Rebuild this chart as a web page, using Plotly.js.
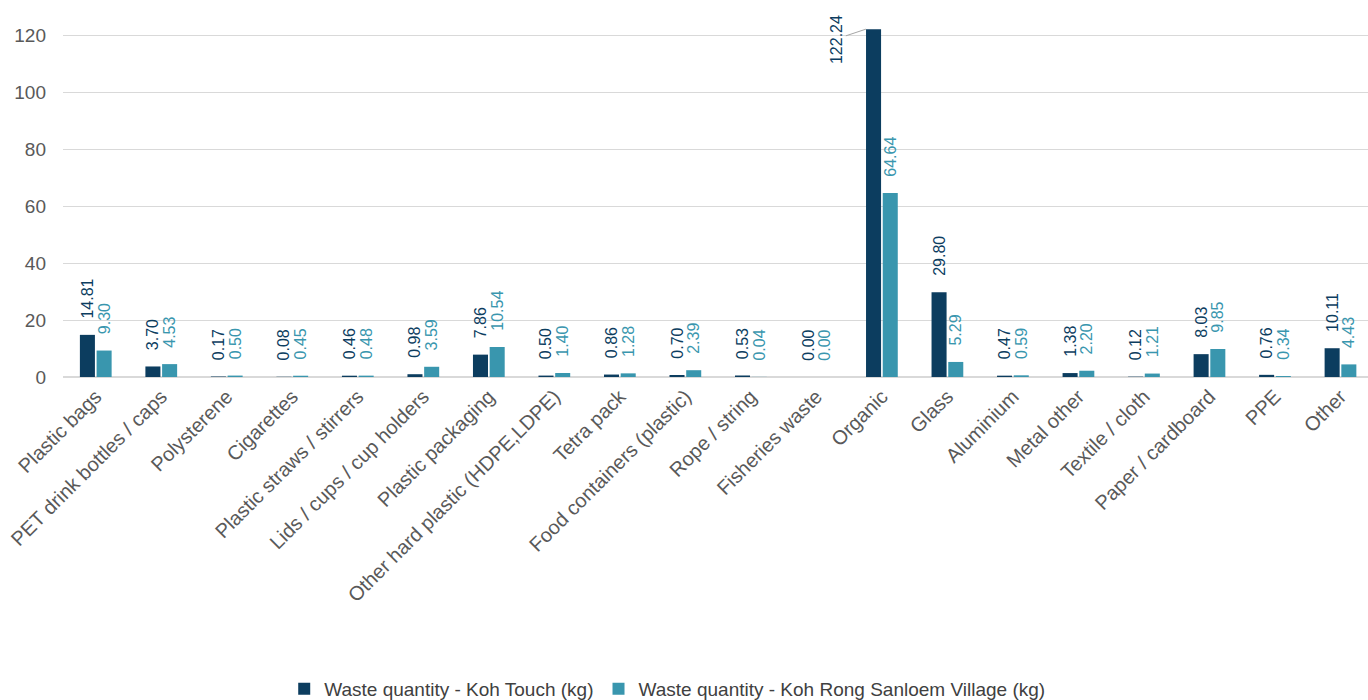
<!DOCTYPE html>
<html>
<head>
<meta charset="utf-8">
<script src="https://cdn.plot.ly/plotly-3.0.1.min.js"></script>
<style>
  html, body { margin: 0; padding: 0; background: #ffffff; }
  #chart { width: 1368px; height: 700px; }
</style>
</head>
<body>
<div id="chart"></div>
<script>
// Waste categories on the x axis
const categories = [
  "Plastic bags", "PET drink bottles / caps", "Polysterene", "Cigarettes",
  "Plastic straws / stirrers", "Lids / cups / cup holders", "Plastic packaging",
  "Other hard plastic (HDPE,LDPE)", "Tetra pack", "Food containers (plastic)",
  "Rope / string", "Fisheries waste", "Organic", "Glass", "Aluminium",
  "Metal other", "Textile / cloth", "Paper / cardboard", "PPE", "Other"
];

// Waste quantity in kg per site
const kohTouch = [14.81, 3.70, 0.17, 0.08, 0.46, 0.98, 7.86, 0.50, 0.86, 0.70,
                  0.53, 0.00, 122.24, 29.80, 0.47, 1.38, 0.12, 8.03, 0.76, 10.11];
const kohRongSanloem = [9.30, 4.53, 0.50, 0.45, 0.48, 3.59, 10.54, 1.40, 1.28, 2.39,
                        0.04, 0.00, 64.64, 5.29, 0.59, 2.20, 1.21, 9.85, 0.34, 4.43];

const seriesNames = [
  "Waste quantity - Koh Touch (kg)",
  "Waste quantity - Koh Rong Sanloem Village (kg)"
];

const yTicks = [0, 20, 40, 60, 80, 100, 120];

const NAVY = "#0c3d5f";
const TEAL = "#3996ae";
const FONT = "Liberation Sans, Arial, sans-serif";

// The tallest bar runs to the top of the plot, so its label is moved beside it
const peakIdx = kohTouch.indexOf(Math.max(...kohTouch));
const pad = "\u00a0\u00a0\u00a0";

function barTrace(values, name, color, hidePeak) {
  return {
    type: "bar",
    name: name,
    x: categories,
    y: values,
    marker: { color: color },
    text: values.map(v => pad + v.toFixed(2)),
    textposition: values.map((v, i) => (hidePeak && i === peakIdx) ? "none" : "outside"),
    textangle: -90,
    textfont: { family: FONT, size: 16, color: color },
    constraintext: "none",
    cliponaxis: false,
    hoverinfo: "x+y"
  };
}

const data = [
  barTrace(kohTouch, seriesNames[0], NAVY, true),
  barTrace(kohRongSanloem, seriesNames[1], TEAL, false)
];

const layout = {
  width: 1368,
  height: 700,
  paper_bgcolor: "#ffffff",
  plot_bgcolor: "#ffffff",
  margin: { l: 63, r: 0, t: 27, b: 323 },
  barmode: "group",
  bargap: 0.49,
  bargroupgap: 0.1,
  font: { family: FONT, color: "#595959" },
  xaxis: {
    type: "category",
    range: [-0.5, 19.42],
    tickangle: -45,
    tickfont: { family: FONT, size: 20, color: "#595959" },
    ticklabelstandoff: 3,
    showgrid: false,
    showline: false,
    ticks: "",
    automargin: false
  },
  yaxis: {
    range: [0, 123],
    tickvals: yTicks,
    tickfont: { family: FONT, size: 19, color: "#595959" },
    showgrid: true,
    gridcolor: "#d9d9d9",
    gridwidth: 1,
    zeroline: true,
    zerolinecolor: "#d9d9d9",
    zerolinewidth: 2,
    showline: false,
    ticks: "",
    ticklabelstandoff: 16,
    automargin: false
  },
  showlegend: true,
  legend: {
    orientation: "h",
    x: 0.463,
    xanchor: "center",
    xref: "paper",
    yref: "container",
    y: 0.016,
    yanchor: "middle",
    font: { family: FONT, size: 19, color: "#404040" },
    itemwidth: 30,
    traceorder: "normal"
  },
  annotations: [{
    x: categories[peakIdx],
    y: kohTouch[peakIdx],
    xref: "x",
    yref: "y",
    xshift: -16,
    text: kohTouch[peakIdx].toFixed(2),
    textangle: -90,
    font: { family: FONT, size: 16, color: NAVY },
    showarrow: true,
    arrowhead: 0,
    arrowwidth: 1,
    arrowcolor: "#a6a6a6",
    ax: -30,
    ay: 10,
    standoff: 0
  }]
};

Plotly.newPlot("chart", data, layout, { displayModeBar: false, staticPlot: true });
</script>
</body>
</html>
